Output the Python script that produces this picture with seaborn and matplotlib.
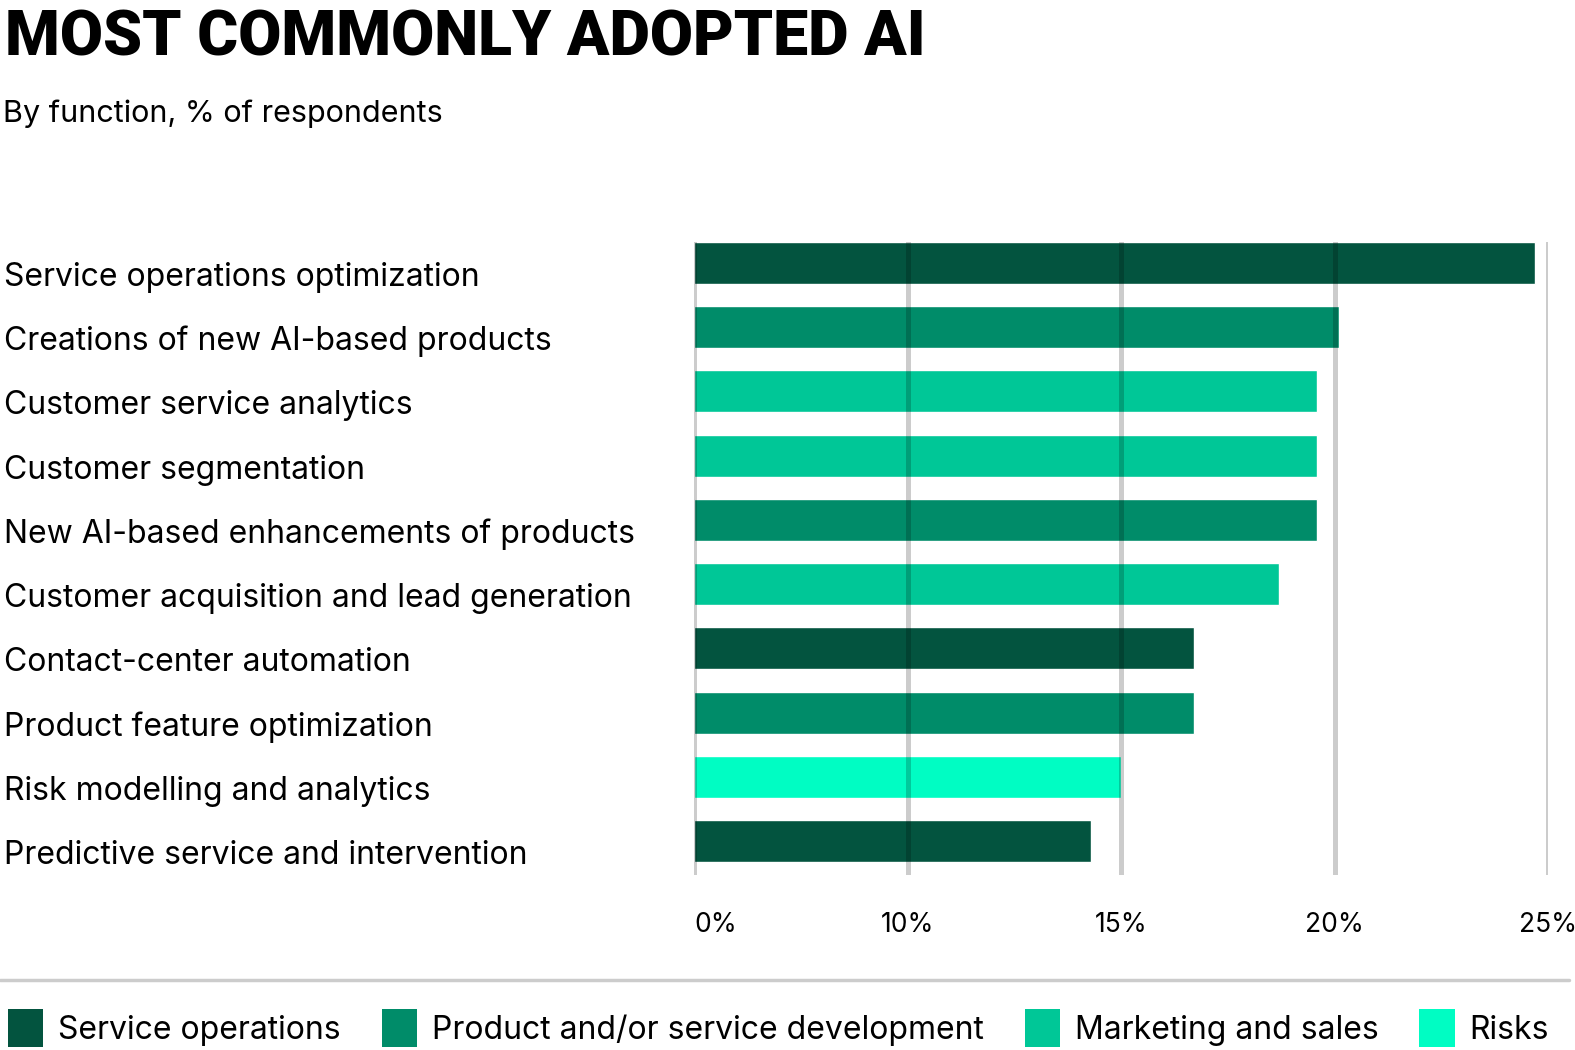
import numpy as np
import pandas as pd
import seaborn as sns
import matplotlib.pyplot as plt
from matplotlib.patches import Patch
from matplotlib.lines import Line2D
from matplotlib.transforms import ScaledTranslation

# data
uses = ["Service operations optimization", "Creations of new AI-based products",
        "Customer service analytics", "Customer segmentation",
        "New AI-based enhancements of products", "Customer acquisition and lead generation",
        "Contact-center automation", "Product feature optimization",
        "Risk modelling and analytics", "Predictive service and intervention"]
share = [24.7, 20.1, 19.6, 19.6, 19.6, 18.7, 16.7, 16.7, 15.0, 14.3]
func = ["Service operations", "Product and/or service development",
        "Marketing and sales", "Marketing and sales",
        "Product and/or service development", "Marketing and sales",
        "Service operations", "Product and/or service development",
        "Risks", "Service operations"]
groups = ["Service operations", "Product and/or service development",
          "Marketing and sales", "Risks"]
group_colors = ["#03543f", "#008c69", "#00c797", "#00fdc3"]
tick_vals = [0, 10, 15, 20, 25]
tick_labels = ["0%", "10%", "15%", "20%", "25%"]

df = pd.DataFrame({"use": uses, "share": share, "function": func})
pal = dict(zip(groups, group_colors))

sns.set_style("white")
plt.rcParams["font.family"] = ["Inter", "DejaVu Sans"]
plt.rcParams["text.color"] = "black"
plt.rcParams["xtick.color"] = "black"
plt.rcParams["ytick.color"] = "black"

fig = plt.figure(figsize=(15.75, 10.5), dpi=100)
ax = fig.add_axes([694 / 1575, 1 - 875 / 1050, 854 / 1575, 633 / 1050])

sns.barplot(data=df, x="share", y="use", hue="function", palette=pal,
            dodge=False, width=0.654, orient="h", legend=False,
            saturation=1, ax=ax)

# axis is evenly spaced between the labelled ticks
pos = np.arange(len(tick_vals))
ax.set_xscale("function",
              functions=(lambda v: np.interp(v, tick_vals, pos),
                         lambda p: np.interp(p, pos, tick_vals)))
ax.set_xlim(0, 25)
ax.set_ylim(9.53, -0.327)
ax.set_xticks(tick_vals)
ax.set_xticklabels(tick_labels, fontsize=19)
ax.set_xlabel("")
ax.set_ylabel("")
for s in ax.spines.values():
    s.set_visible(False)

ax.grid(False)
for v in tick_vals:
    ax.axvline(v, color="black", alpha=0.2, lw=3.6, zorder=5)

ax.tick_params(axis="x", length=0, pad=27)
ax.tick_params(axis="y", length=0, pad=497, labelsize=23)
for lab in ax.get_yticklabels():
    lab.set_horizontalalignment("left")
    lab.set_transform(lab.get_transform() + ScaledTranslation(0, -0.11, fig.dpi_scale_trans))
xl = ax.get_xticklabels()
xl[0].set_horizontalalignment("left")

fig.text(0.003, 1 - 8 / 1050, "MOST COMMONLY ADOPTED AI", fontsize=45,
         fontweight="black", va="top", ha="left", family=["Roboto", "DejaVu Sans"])
fig.text(0.002, 1 - 122 / 1050, "By function, % of respondents", fontsize=22,
         va="baseline", ha="left")

fig.add_artist(Line2D([0, 0.996], [1 - 980 / 1050] * 2, transform=fig.transFigure,
                      color="#cccccc", lw=2.5))

handles = [Patch(facecolor=c, edgecolor="none") for c in group_colors]
fig.legend(handles, groups, loc="center left", bbox_to_anchor=(0.0, 1 - 1028 / 1050),
           ncol=4, frameon=False, fontsize=23, handlelength=1.1, handleheight=1.5,
           handletextpad=0.47, columnspacing=1.28, borderpad=0, borderaxespad=0.25)

fig.savefig("out.png", dpi=100)
